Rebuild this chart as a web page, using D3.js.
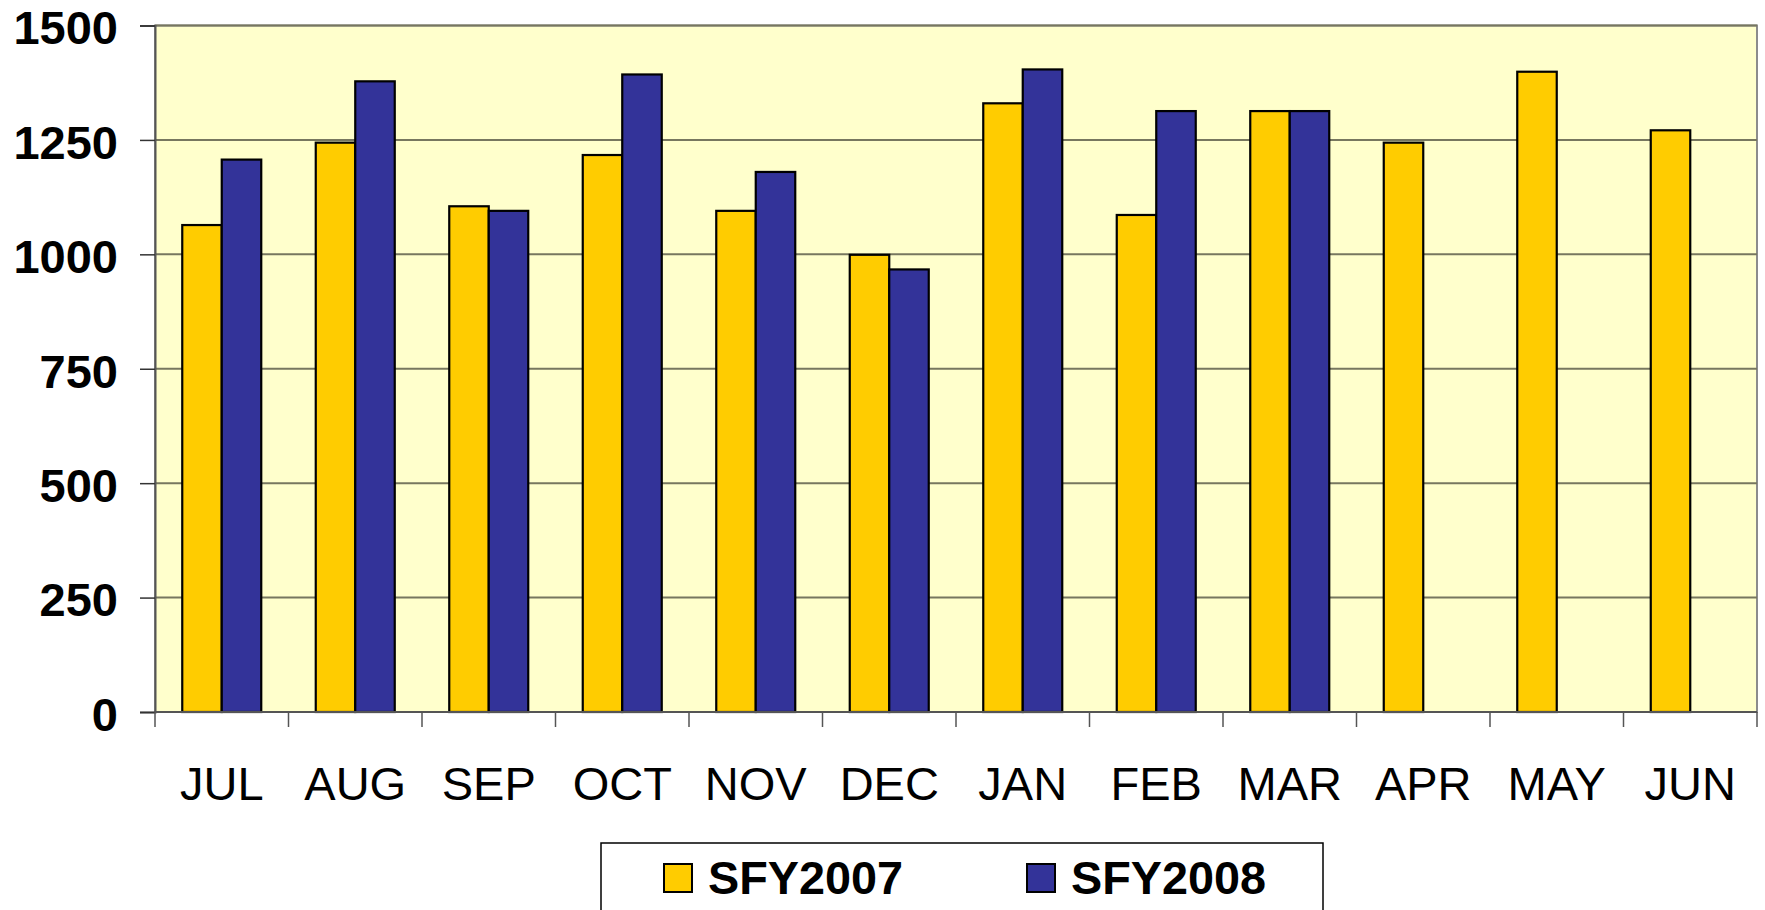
<!DOCTYPE html>
<html>
<head>
<meta charset="utf-8">
<script src="https://cdn.jsdelivr.net/npm/d3@7"></script>
<style>
  body { margin: 0; background: #fff; }
  text { font-family: "Liberation Sans", Arial, sans-serif; }
</style>
</head>
<body>
<div id="chart"></div>
<script>
// data
let months = ['JUL','AUG','SEP','OCT','NOV','DEC','JAN','FEB','MAR','APR','MAY','JUN'];
let series = ['SFY2007','SFY2008'];
let sfy2007 = [1064, 1244, 1105, 1217, 1095, 999, 1330, 1086, 1313, 1244, 1399, 1271];
let sfy2008 = [1207, 1378, 1095, 1393, 1180, 967, 1404, 1313, 1313, null, null, null];
let yTicks = [0, 250, 500, 750, 1000, 1250, 1500];
let colors = ['#FFCC00', '#333399'];

let width = 1765,
    height = 910,
    pLeft = 155,
    pRight = 1757,
    pTop = 25.5,
    pBottom = 712;

let svg = d3.select('#chart').append('svg')
    .attr('width', width)
    .attr('height', height);

let x = d3.scaleBand().domain(months).range([pLeft, pRight]).paddingInner(0).paddingOuter(0);
let x1 = d3.scaleBand().domain(series).range([0, x.bandwidth()]).paddingInner(0).paddingOuter(0.69);
let y = d3.scaleLinear().domain([0, 1500]).range([pBottom, pTop]);

// plot area
svg.append('rect')
    .attr('x', pLeft).attr('y', pTop)
    .attr('width', pRight - pLeft).attr('height', pBottom - pTop)
    .attr('fill', '#FFFFCC')
    .attr('stroke', '#8c8c8c')
    .attr('stroke-width', 2);

// gridlines
svg.append('g').selectAll('line')
    .data(yTicks.filter(d => d > 0))
    .enter().append('line')
    .attr('x1', pLeft).attr('x2', pRight)
    .attr('y1', d => y(d)).attr('y2', d => y(d))
    .attr('stroke', '#77775f')
    .attr('stroke-width', 2);

// bars
let rows = months.map((m, i) => [
  {m: m, s: series[0], v: sfy2007[i], c: colors[0]},
  {m: m, s: series[1], v: sfy2008[i], c: colors[1]}
]);

let grp = svg.append('g').selectAll('g')
    .data(rows)
    .enter().append('g')
    .attr('transform', d => 'translate(' + x(d[0].m) + ',0)');

grp.selectAll('rect')
    .data(d => d.filter(e => e.v != null))
    .enter().append('rect')
    .attr('x', d => x1(d.s))
    .attr('y', d => y(d.v))
    .attr('width', x1.bandwidth())
    .attr('height', d => y(0) - y(d.v))
    .attr('fill', d => d.c)
    .attr('stroke', '#000')
    .attr('stroke-width', 2.2);

// y axis
let yAxis = svg.append('g')
    .attr('transform', 'translate(' + pLeft + ',0)')
    .call(d3.axisLeft(y).tickValues(yTicks).tickSize(15).tickPadding(22).tickFormat(d3.format('d')));
yAxis.select('.domain').attr('stroke', '#555').attr('stroke-width', 2);
yAxis.selectAll('.tick line').attr('stroke', '#333').attr('stroke-width', 1.5);
yAxis.selectAll('text')
    .attr('dy', '0.39em')
    .attr('font-size', 47)
    .attr('font-weight', 'bold')
    .attr('fill', '#000')
    .attr('font-family', '"Liberation Sans", Arial, sans-serif');

// x axis: ticks at band boundaries
let xa = svg.append('g');
xa.append('line')
    .attr('x1', pLeft).attr('x2', pRight)
    .attr('y1', pBottom).attr('y2', pBottom)
    .attr('stroke', '#555').attr('stroke-width', 2);
xa.selectAll('line.tk')
    .data(months.concat(['end']))
    .enter().append('line')
    .attr('class', 'tk')
    .attr('x1', (d, i) => pLeft + i * x.step())
    .attr('x2', (d, i) => pLeft + i * x.step())
    .attr('y1', pBottom).attr('y2', pBottom + 15)
    .attr('stroke', '#555').attr('stroke-width', 1.5);
xa.selectAll('text')
    .data(months)
    .enter().append('text')
    .attr('x', d => x(d) + x.bandwidth() / 2)
    .attr('y', 800)
    .attr('text-anchor', 'middle')
    .attr('font-size', 47)
    .attr('fill', '#000')
    .text(d => d);

// legend
let lg = svg.append('g');
lg.append('rect')
    .attr('x', 601).attr('y', 843)
    .attr('width', 722).attr('height', 100)
    .attr('fill', '#fff')
    .attr('stroke', '#000')
    .attr('stroke-width', 1.5);

let lx = [664, 1027];
let items = lg.selectAll('g.item')
    .data(series)
    .enter().append('g')
    .attr('class', 'item')
    .attr('transform', (d, i) => 'translate(' + lx[i] + ',864)');
items.append('rect')
    .attr('width', 28).attr('height', 28)
    .attr('fill', (d, i) => colors[i])
    .attr('stroke', '#000')
    .attr('stroke-width', 2);
items.append('text')
    .attr('x', 44).attr('y', 30)
    .attr('font-size', 46)
    .attr('font-weight', 'bold')
    .attr('textLength', 195)
    .attr('lengthAdjust', 'spacingAndGlyphs')
    .text(d => d);
</script>
</body>
</html>
